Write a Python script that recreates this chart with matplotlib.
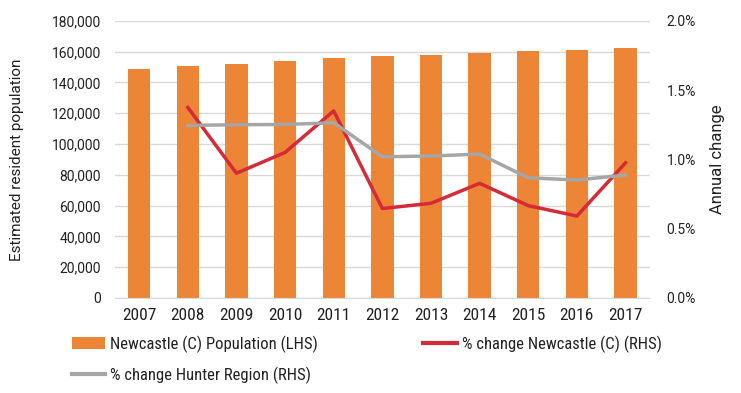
import matplotlib
matplotlib.use("Agg")
import matplotlib.pyplot as plt
from matplotlib.ticker import FuncFormatter
from matplotlib.lines import Line2D
from matplotlib.patches import Patch

plt.rcParams['font.family'] = ['Roboto', 'DejaVu Sans']
narrow = ['Roboto Condensed', 'Arial Narrow', 'Liberation Sans Narrow', 'Roboto', 'DejaVu Sans']

years = ['2007', '2008', '2009', '2010', '2011', '2012', '2013', '2014', '2015', '2016', '2017']
population = [148700, 150400, 152100, 153700, 156000, 156900, 157800, 159300, 160200, 161000, 162500]
# % change, first year has no value
chg_newcastle = [None, 1.375, 0.90, 1.05, 1.35, 0.645, 0.683, 0.827, 0.666, 0.591, 0.975]
chg_hunter = [None, 1.245, 1.25, 1.252, 1.264, 1.019, 1.024, 1.038, 0.867, 0.851, 0.887]

orange = '#ED8536'
red = '#D52A38'
grey = '#A6A6A6'
txt = '#222222'

fig = plt.figure(figsize=(7.41, 3.93), dpi=100)
ax = fig.add_axes([0.155, 0.242, 0.722, 0.705])
ax2 = ax.twinx()

x = list(range(len(years)))
ax.bar(x, population, width=0.46, color=orange, zorder=2)
ax.set_ylim(0, 180000)
ax.set_xlim(-0.5, len(years) - 0.5)
ax.set_yticks(range(0, 180001, 20000))
ax.yaxis.set_major_formatter(FuncFormatter(lambda v, p: f'{int(v):,}'))
ax.set_xticks(x)
ax.set_xticklabels(years, family=narrow, fontsize=12.5)
ax.grid(axis='y', color='#D9D9D9', linewidth=1, zorder=0)
ax.set_axisbelow(True)

xs = x[1:]
ax2.plot(xs, chg_newcastle[1:], color=red, linewidth=2.5, zorder=3)
ax2.plot(xs, chg_hunter[1:], color=grey, linewidth=2.5, zorder=3)
ax2.set_ylim(0, 2.0)
ax2.set_yticks([0, 0.5, 1.0, 1.5, 2.0])
ax2.yaxis.set_major_formatter(FuncFormatter(lambda v, p: f'{v:.1f}%'))

for a in (ax, ax2):
    for s in a.spines.values():
        s.set_visible(False)
    a.tick_params(length=0, labelsize=10, colors=txt)
ax.spines['bottom'].set_visible(True)
ax.spines['bottom'].set_color('#D9D9D9')
ax.tick_params(axis='y', pad=10)
ax.tick_params(axis='x', pad=7, labelsize=12.5)
ax2.tick_params(axis='y', pad=12)

ax.set_ylabel('Estimated resident population', fontsize=11, color=txt, labelpad=20)
ax2.set_ylabel('Annual change', fontsize=12, color=txt, labelpad=10)

handles = [
    Patch(facecolor=orange, label='Newcastle (C) Population (LHS)'),
    Line2D([], [], color=grey, linewidth=3, label='% change Hunter Region (RHS)'),
    Line2D([], [], color=red, linewidth=3, label='% change Newcastle (C) (RHS)'),
]
fig.legend(handles=handles, loc='upper left', bbox_to_anchor=(0.077, 0.185), ncol=2,
           frameon=False, prop={'family': narrow, 'size': 12}, handlelength=2.0,
           handletextpad=0.3, columnspacing=6.3, labelspacing=0.85, labelcolor=txt)

fig.savefig('out.png', dpi=100)
